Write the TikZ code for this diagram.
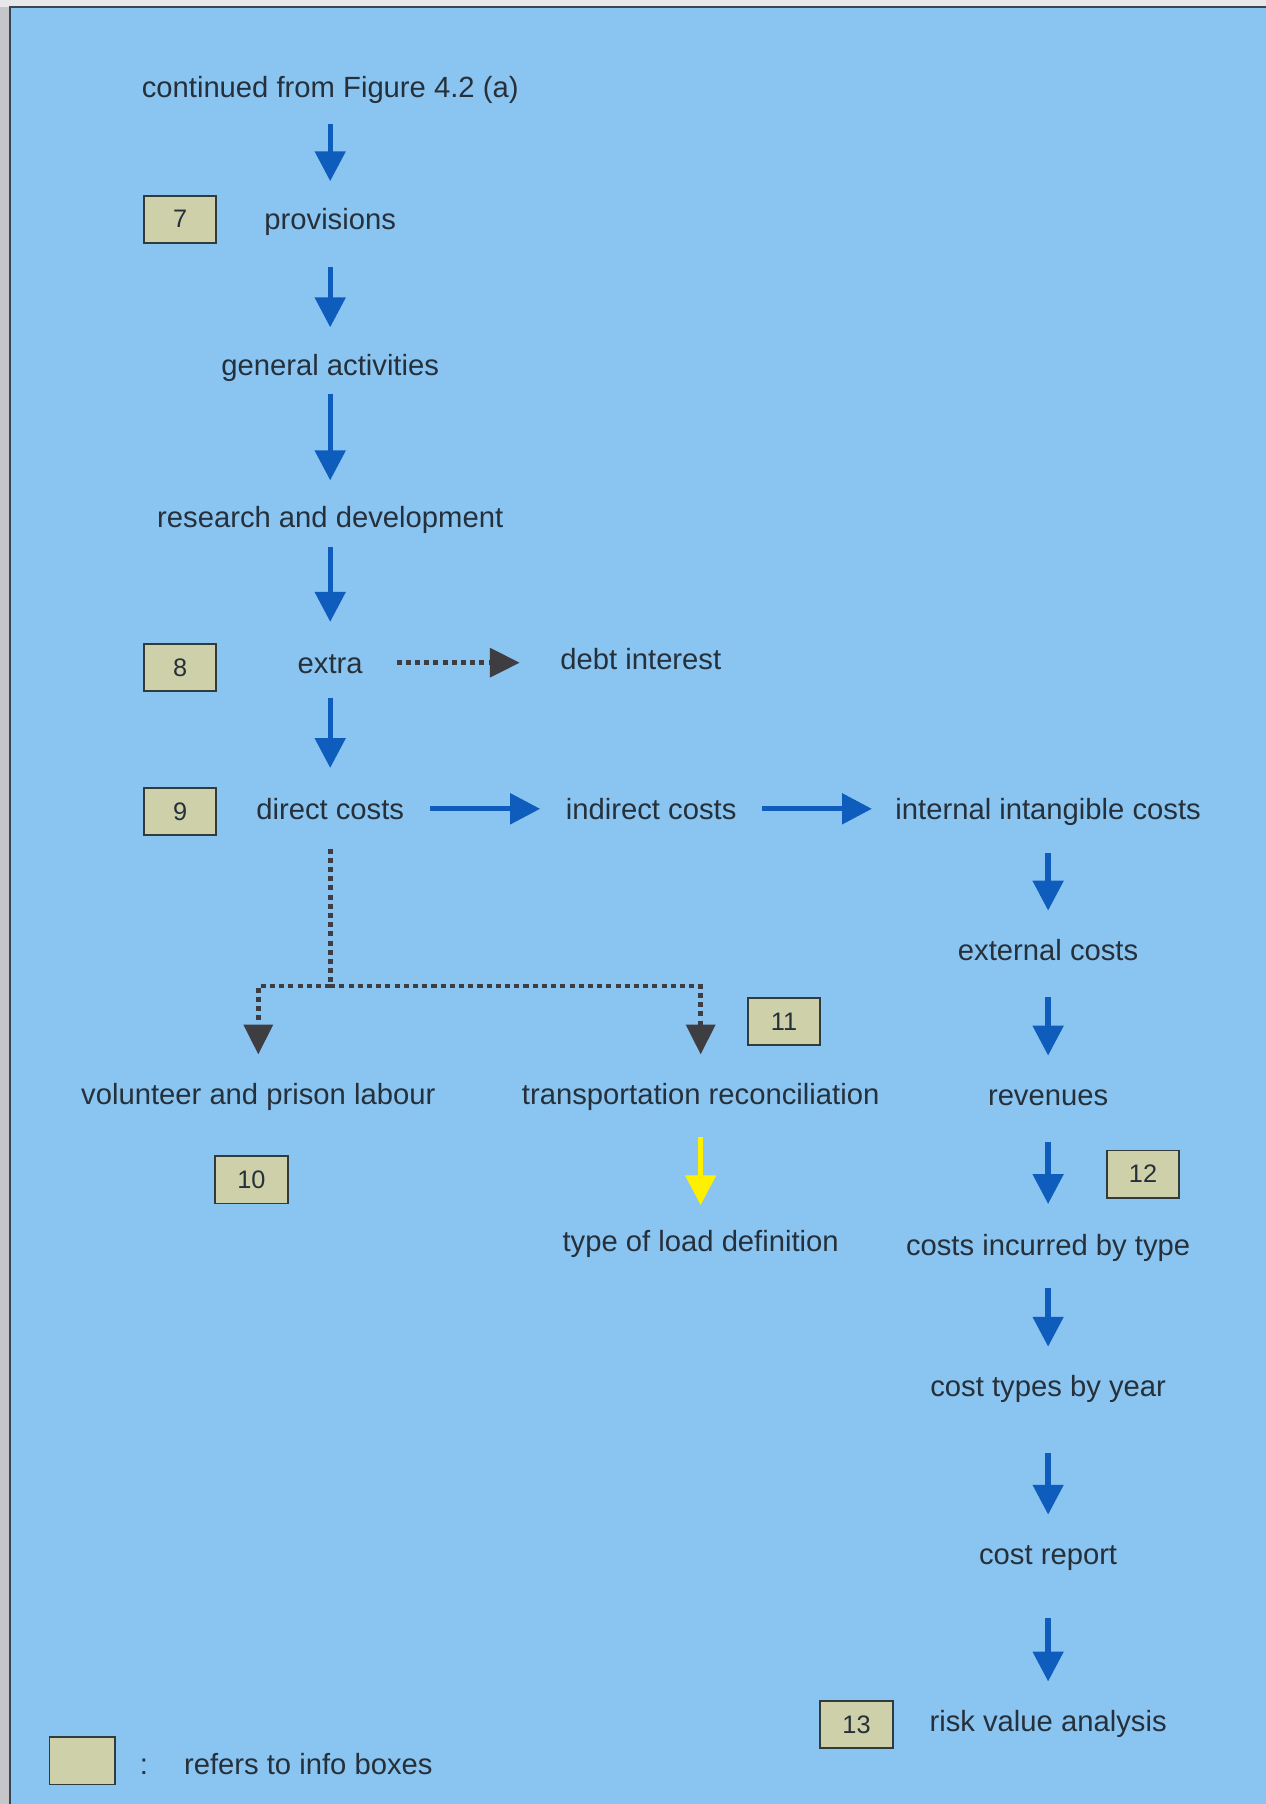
\documentclass[tikz,border=0pt]{standalone}
\usepackage{fontspec}
\setmainfont{Liberation Sans}
\usetikzlibrary{arrows.meta}
\definecolor{bgblue}{RGB}{138,196,240}
\definecolor{arrowblue}{RGB}{14,92,188}
\definecolor{txt}{RGB}{38,48,58}
\definecolor{boxfill}{RGB}{205,208,168}
\definecolor{boxedge}{RGB}{50,58,60}
\definecolor{greyarrow}{RGB}{62,62,66}
\definecolor{yellowarrow}{RGB}{255,240,0}
\definecolor{topgrey}{RGB}{232,232,234}
\definecolor{leftgrey}{RGB}{196,198,202}
\definecolor{frameline}{RGB}{60,70,80}
\begin{document}
\begin{tikzpicture}[x=0.5pt,y=-0.5pt,
  lbl/.style={text=txt,font=\fontsize{12.7}{15}\selectfont,inner sep=0pt,text height=9.1pt,text depth=0pt},
  infobox/.style={draw=boxedge,line width=0.8pt,fill=boxfill,minimum width=31.5pt,minimum height=20.5pt,inner sep=0pt,text=txt,font=\fontsize{11}{13}\selectfont},
  barrow/.style={draw=arrowblue,line width=2.3pt,-{Triangle[length=13pt,width=13pt]}},
  yarrow/.style={draw=yellowarrow,line width=2.3pt,-{Triangle[length=13pt,width=13pt]}},
  gdots/.style={draw=greyarrow,line width=2pt,dash pattern=on 2.2pt off 1.8pt},
  garrow/.style={gdots,-{Triangle[length=13pt,width=12.5pt]}}]
\useasboundingbox (0,0) rectangle (1100,1568);
% background
\fill[topgrey] (0,0) rectangle (1100,1568);
\fill[leftgrey] (0,6) rectangle (9,1568);
\fill[bgblue] (9,6) rectangle (1100,1568);
\draw[frameline,line width=0.8pt] (9,1568) -- (9,6) -- (1100,6);

% text nodes
\node[lbl] (n0) at (287,76) {continued from Figure 4.2 (a)};
\node[lbl] (n1) at (287,190) {provisions};
\node[lbl] (n2) at (287,317) {general activities};
\node[lbl] (n3) at (287,449) {research and development};
\node[lbl] (n4) at (287,576) {extra};
\node[lbl] (n5) at (557,573) {debt interest};
\node[lbl] (n6) at (287,703) {direct costs};
\node[lbl] (n7) at (566,703) {indirect costs};
\node[lbl] (n8) at (911,703) {internal intangible costs};
\node[lbl] (n9) at (911,826) {external costs};
\node[lbl] (n10) at (911,952) {revenues};
\node[lbl] (n11) at (911,1082) {costs incurred by type};
\node[lbl] (n12) at (911,1205) {cost types by year};
\node[lbl] (n13) at (911,1351) {cost report};
\node[lbl] (n14) at (911,1496) {risk value analysis};
\node[lbl] (n15) at (224.5,951) {volunteer and prison labour};
\node[lbl] (n16) at (609,951) {transportation reconciliation};
\node[lbl] (n17) at (609,1079) {type of load definition};

% info boxes
\node[infobox] (b7) at (156.5,190.5) {7};
\node[infobox] (b8) at (156.5,580) {8};
\node[infobox] (b9) at (156.5,705.5) {9};
\node[infobox] (b10) at (218.5,1025.5) {10};
\node[infobox] (b11) at (681.5,888) {11};
\node[infobox] (b12) at (993.5,1020.5) {12};
\node[infobox] (b13) at (744.5,1499) {13};

% legend
\node[infobox,minimum width=28.5pt] (leg) at (71.5,1530.5) {};
\node[lbl] (legc) at (125,1533) {:};
\node[lbl] (legt) at (268,1533) {refers to info boxes};

% main column
\draw[barrow,shorten <=11pt,shorten >=11.5pt] (n0) -- (n1);
\draw[barrow,shorten <=16.5pt,shorten >=11.5pt] (n1) -- (n2);
\draw[barrow,shorten <=8pt,shorten >=11pt] (n2) -- (n3);
\draw[barrow,shorten <=8.5pt,shorten >=13pt] (n3) -- (n4);
\draw[barrow,shorten <=10.5pt,shorten >=13pt] (n4) -- (n6);

% extra -> debt interest
\draw[garrow,shorten <=14.5pt,shorten >=17.5pt] (n4.east) -- (n4.east -| n5.west);

% horizontal row
\draw[barrow,shorten <=11pt,shorten >=11pt] (n6) -- (n7);
\draw[barrow,shorten <=11pt,shorten >=10pt] (n7) -- (n8);

% right column
\draw[barrow,shorten <=14.5pt,shorten >=12.5pt] (n8) -- (n9);
\draw[barrow,shorten <=15.5pt,shorten >=12.5pt] (n9) -- (n10);
\draw[barrow,shorten <=15.5pt,shorten >=13pt] (n10) -- (n11);
\draw[barrow,shorten <=14pt,shorten >=12.5pt] (n11) -- (n12);
\draw[barrow,shorten <=24pt,shorten >=12.5pt] (n12) -- (n13);
\draw[barrow,shorten <=23pt,shorten >=12.5pt] (n13) -- (n14);

% dotted tree from direct costs
\coordinate (split) at (287,857);
\draw[gdots,shorten <=12.5pt] (n6) -- (split);
\draw[garrow,shorten >=12.5pt] (split) -| (n15);
\draw[garrow,shorten >=12.5pt] (split) -| (n16);

% yellow arrow
\draw[yarrow,shorten <=14pt,shorten >=11pt] (n16) -- (n17);
\end{tikzpicture}
\end{document}
